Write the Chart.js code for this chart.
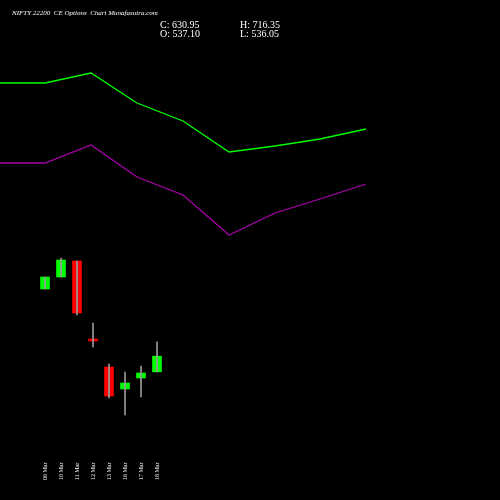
<!DOCTYPE html><html><head><style>html,body{margin:0;background:#000}</style>
<script src="https://cdn.jsdelivr.net/npm/chart.js@4"></script></head><body><canvas id="c" width="500" height="500"></canvas><script>
const dates=["06 Mar","10 Mar","11 Mar","12 Mar","13 Mar","16 Mar","17 Mar","18 Mar"];
const candleX=[45,61,77,93,109,125,141,157];
const opens=[1034,1106,1202,734,566,434,500,537.10];
const closes=[1106,1208,890,722,392,470,530,630.95];
const highs=[1106,1220,1202,830,584,536,572,716.35];
const lows=[1034,1106,878,686,380,278,386,536.05];
const lineX=[0,45,91,137,183,229,275,320,366];
const upper=[2270,2270,2330,2150,2042,1856,1892,1934,1994];
const lower=[1790,1790,1898,1706,1598,1358,1490,1574,1664];
const col=opens.map((o,i)=>closes[i]>=o?'#00ff00':'#ff0000');
const textPlugin={id:'t',afterDraw(ch){const c=ch.ctx,xs=ch.scales.x;c.save();c.fillStyle='#fff';
c.font='italic 7px "Liberation Serif"';c.fillText('NIFTY 22200  CE Options  Chart Munafasutra.com',12,15);
c.font='10px "Liberation Serif"';c.fillText('C: 630.95',160,28);c.fillText('O: 537.10',160,37);c.fillText('H: 716.35',240,28);c.fillText('L: 536.05',240,37);
c.font='6px "Liberation Serif"';dates.forEach((d,i)=>{c.save();c.translate(xs.getPixelForValue(candleX[i])+2,480);c.rotate(-Math.PI/2);c.fillText(d,0,0);c.restore();});c.restore();}};
new Chart(document.getElementById('c'),{data:{datasets:[
{type:'line',data:lineX.map((x,i)=>({x,y:upper[i]})),borderColor:'#00ff00',borderWidth:1.3,pointRadius:0},
{type:'line',data:lineX.map((x,i)=>({x,y:lower[i]})),borderColor:'#aa00aa',borderWidth:1.3,pointRadius:0},
{type:'bar',data:candleX.map((x,i)=>({x,y:[lows[i],highs[i]]})),backgroundColor:'#999',barThickness:1,grouped:false},
{type:'bar',data:candleX.map((x,i)=>({x,y:[opens[i],closes[i]]})),backgroundColor:col,barThickness:9,grouped:false,minBarLength:2}
]},options:{responsive:false,devicePixelRatio:1,animation:false,layout:{padding:0},plugins:{legend:{display:false},tooltip:{enabled:false}},
scales:{x:{type:'linear',offset:false,min:0,max:500,display:false},y:{min:-232,max:2768,display:false}}},plugins:[textPlugin]});
</script></body></html>
